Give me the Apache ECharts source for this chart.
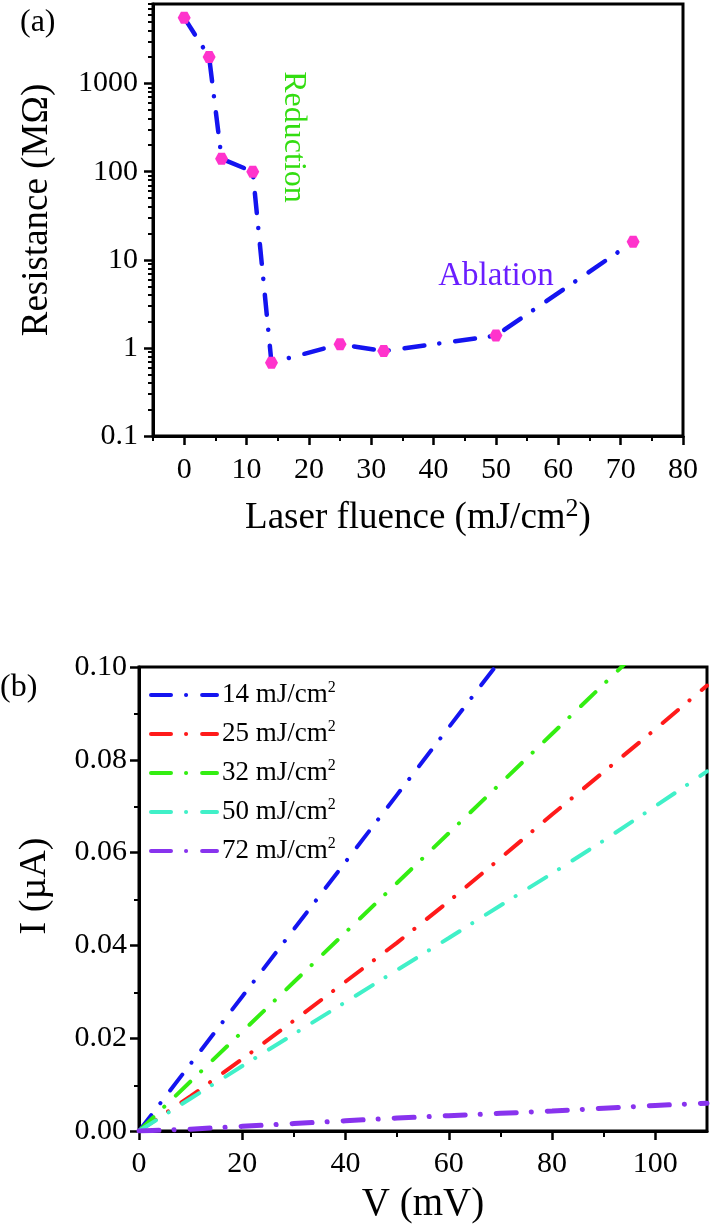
<!DOCTYPE html>
<html><head><meta charset="utf-8">
<script src="https://cdn.jsdelivr.net/npm/echarts@6/dist/echarts.min.js"></script>
<style>html,body{margin:0;padding:0;background:#fff}#c{width:713px;height:1228px}</style>
</head><body><div id="c"></div>
<script>
// ---- Panel (a) data ----
const fluence = [0, 4, 6, 11, 14, 25, 32, 50, 72];
const resistance = [5600, 2000, 140, 100, 0.68, 1.1, 0.92, 1.38, 16];
const xTicksA = [0, 10, 20, 30, 40, 50, 60, 70, 80];
const xMinorA = [-5, 5, 15, 25, 35, 45, 55, 65, 75];
const yTicksA = [0.1, 1, 10, 100, 1000];
const yMinorA = [0.2, 0.3, 0.4, 0.5, 0.6, 0.7, 0.8, 0.9, 2, 3, 4, 5, 6, 7, 8, 9,
  20, 30, 40, 50, 60, 70, 80, 90, 200, 300, 400, 500, 600, 700, 800, 900,
  2000, 3000, 4000, 5000, 6000, 7000, 8000];
const yMinA = 0.1, yMaxA = 8000;

// ---- Panel (b) data ----
const voltage = [0, 10, 20, 30, 40, 50, 60, 70, 80, 90, 100, 110];
const seriesNames = ['14 mJ/cm²', '25 mJ/cm²', '32 mJ/cm²', '50 mJ/cm²', '72 mJ/cm²'];
const current14 = [0, 0.0145, 0.029, 0.0435, 0.058, 0.0725, 0.087, 0.1015];
const current25 = [0, 0.0075, 0.0155, 0.0238, 0.0322, 0.0406, 0.0495, 0.0588, 0.0682, 0.0774, 0.0866, 0.096];
const current32 = [0, 0.0107, 0.0214, 0.0321, 0.0428, 0.0535, 0.0642, 0.0749, 0.0856, 0.0963, 0.107];
const current50 = [0, 0.007, 0.014, 0.0209, 0.0278, 0.0347, 0.0416, 0.0486, 0.0555, 0.0626, 0.07, 0.0775];
const current72 = [0, 0.0004, 0.001, 0.0016, 0.0022, 0.0028, 0.0033, 0.0038, 0.0043, 0.0049, 0.0055, 0.006];
const xTicksB = [0, 20, 40, 60, 80, 100];
const xMinorB = [10, 30, 50, 70, 90];
const yTicksB = [0, 0.02, 0.04, 0.06, 0.08, 0.1];
const yMinorB = [0.01, 0.03, 0.05, 0.07, 0.09];

const colorsB = ['#1414f0', '#ff1a1a', '#33ee11', '#40f0c8', '#8833ee'];
const currents = [current14, current25, current32, current50, current72];

const FONT = "'Liberation Serif','Times New Roman',serif";
const DASH = [20, 15, 0.1, 16];
const hex = 'path://M0,50 L25,6.7 L75,6.7 L100,50 L75,93.3 L25,93.3 Z';

const rectA = {left: 153, top: 4, width: 530, height: 432};
const rectB = {left: 139, top: 667, width: 568, height: 465};

const axisLine = {onZero: false, lineStyle: {color: '#000', width: 3}};
const lbl = (vals, extra) => Object.assign({customValues: vals, color: '#000', fontFamily: FONT, fontSize: 30}, extra);
const majorTick = vals => ({customValues: vals, length: 9, lineStyle: {color: '#000', width: 2.5}});
const minorAxis = (grid, min, max, vals, pos) => ({
  type: 'value', gridIndex: grid, min: min, max: max, position: pos,
  axisLine: {show: false, onZero: false}, axisLabel: {show: false}, splitLine: {show: false},
  axisTick: {show: true, customValues: vals, length: 5, lineStyle: {color: '#000', width: 2}}
});
const nameStyle = (size, extra) => Object.assign({
  color: '#000', fontFamily: FONT, fontSize: size, lineHeight: 44,
  rich: {sup: {fontFamily: FONT, fontSize: 26, color: '#000', verticalAlign: 'top', lineHeight: 20}}
}, extra || {});

const chart = echarts.init(document.getElementById('c'), null, {renderer: 'canvas'});
const option = {
  animation: false,
  backgroundColor: '#fff',
  textStyle: {fontFamily: FONT},
  grid: [
    Object.assign({show: true, borderColor: '#000', borderWidth: 3}, rectA),
    Object.assign({show: true, borderColor: '#000', borderWidth: 3}, rectB),
    Object.assign({show: false}, rectA),   // helper grid: minor ticks of (a)
    Object.assign({show: false}, rectB)    // helper grid: minor ticks of (b)
  ],
  xAxis: [
    {type: 'value', gridIndex: 0, min: -5, max: 80, position: 'bottom', axisLine: axisLine,
     axisTick: majorTick(xTicksA), axisLabel: lbl(xTicksA, {margin: 19}), splitLine: {show: false},
     name: 'Laser fluence (mJ/cm{sup|2})', nameLocation: 'middle', nameGap: 60, nameTextStyle: nameStyle(37)},
    {type: 'value', gridIndex: 1, min: 0, max: 110, position: 'bottom', axisLine: axisLine,
     axisTick: majorTick(xTicksB), axisLabel: lbl(xTicksB, {margin: 18}), splitLine: {show: false},
     name: 'V (mV)', nameLocation: 'middle', nameGap: 52, nameTextStyle: nameStyle(39)},
    minorAxis(2, -5, 80, xMinorA, 'bottom'),
    minorAxis(3, 0, 110, xMinorB, 'bottom')
  ],
  yAxis: [
    {type: 'log', gridIndex: 0, min: yMinA, max: yMaxA, logBase: 10, position: 'left', axisLine: axisLine,
     axisTick: majorTick(yTicksA), splitLine: {show: false}, minorTick: {show: false},
     axisLabel: lbl(yTicksA, {margin: 15, formatter: v => String(Number(Number(v).toPrecision(6)))}),
     name: 'Resistance (MΩ)', nameLocation: 'middle', nameGap: 96, nameTextStyle: nameStyle(37, {lineHeight: 40, padding: [0, 0, 0, 20]})},
    {type: 'value', gridIndex: 1, min: 0, max: 0.1, position: 'left', axisLine: axisLine,
     axisTick: majorTick(yTicksB), splitLine: {show: false},
     axisLabel: lbl(yTicksB, {margin: 12, formatter: v => Number(v).toFixed(2)}),
     name: 'I (µA)', nameLocation: 'middle', nameGap: 84, nameTextStyle: nameStyle(38, {lineHeight: 40, padding: [0, 0, 0, 26]})},
    // minor log ticks of (a), on a helper axis in log10 units
    minorAxis(2, Math.log10(yMinA), Math.log10(yMaxA), yMinorA.map(v => Math.log10(v)), 'left'),
    minorAxis(3, 0, 0.1, yMinorB, 'left')
  ],
  legend: {
    data: seriesNames, orient: 'vertical', left: 144, top: 675,
    itemWidth: 66, itemHeight: 6, itemGap: 9, selectedMode: false,
    itemStyle: {opacity: 0}, lineStyle: {width: 4},
    formatter: n => n.replace('²', '{sup|2}'),
    textStyle: {fontFamily: FONT, fontSize: 27, color: '#000', lineHeight: 30,
      rich: {sup: {fontFamily: FONT, fontSize: 16, color: '#000', lineHeight: 14, verticalAlign: 'top'}}}
  },
  graphic: [
    {type: 'text', left: 20, top: 7, style: {text: '(a)', font: '32px ' + FONT, fill: '#000'}},
    {type: 'text', left: 0, top: 672, style: {text: '(b)', font: '32px ' + FONT, fill: '#000'}},
    {type: 'text', x: 293, y: 137, rotation: -Math.PI / 2,
     style: {text: 'Reduction', font: '32px ' + FONT, fill: '#33dd11', align: 'center', verticalAlign: 'middle'}},
    {type: 'text', x: 496, y: 276,
     style: {text: 'Ablation', font: '33px ' + FONT, fill: '#6a1eff', align: 'center', verticalAlign: 'middle'}}
  ],
  series: [
    {type: 'line', name: 'Resistance', xAxisIndex: 0, yAxisIndex: 0,
     data: fluence.map((x, i) => [x, resistance[i]]),
     symbol: hex, symbolSize: [13, 12], showSymbol: true,
     itemStyle: {color: '#ff33cc'},
     lineStyle: {color: '#1414f0', width: 4.5, type: DASH, cap: 'round'}, z: 3}
  ].concat(seriesNames.map((n, k) => ({
    type: 'line', name: n, xAxisIndex: 1, yAxisIndex: 1,
    data: currents[k].map((c, i) => [voltage[i], c]),
    symbol: 'none', showSymbol: false, clip: true,
    itemStyle: {color: colorsB[k]},
    lineStyle: {color: colorsB[k], width: k === 4 ? 5 : 4, type: DASH, cap: 'round'}
  })))
};
chart.setOption(option);
</script>
</body></html>
